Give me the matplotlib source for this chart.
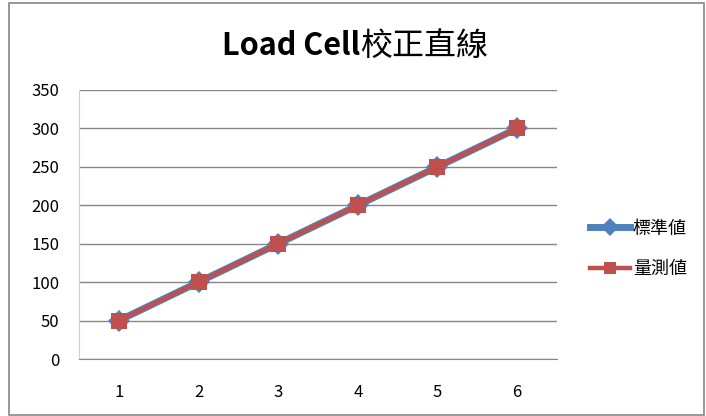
import matplotlib
matplotlib.use("Agg")
import matplotlib.pyplot as plt
from matplotlib.patches import Rectangle

plt.rcParams['font.family'] = ['Noto Sans CJK TC', 'DejaVu Sans']

categories = [1, 2, 3, 4, 5, 6]
standard = [50, 100, 150, 200, 250, 300]
measured = [50, 100, 150, 200, 250, 300]
y_ticks = [0, 50, 100, 150, 200, 250, 300, 350]

fig = plt.figure(figsize=(7.06, 4.16), dpi=100)
fig.patch.set_facecolor('white')
fig.add_artist(Rectangle((8.5 / 706, 1.5 / 416), 695 / 706, 412 / 416,
                         transform=fig.transFigure, fill=False,
                         edgecolor='#868686', linewidth=1.2))

ax = fig.add_axes([79 / 706, 1 - 359 / 416, 478 / 706, 269 / 416])
ax.set_xlim(0.5, 6.5)
ax.set_ylim(0, 350)
ax.set_yticks(y_ticks)
ax.set_xticks(categories)
ax.grid(axis='y', color='#868686', linewidth=1.0)
ax.set_axisbelow(True)
for side in ['top', 'right']:
    ax.spines[side].set_visible(False)
ax.spines['left'].set_color('#d0d0d0')
ax.spines['bottom'].set_color('#868686')
ax.tick_params(axis='both', length=0, labelsize=12, colors='black')
ax.tick_params(axis='y', pad=14)
ax.tick_params(axis='x', pad=18)

ax.plot(categories, standard, color='#4F81BD', linewidth=5.0,
        marker='D', markersize=11, markeredgewidth=0, label='標準値')
ax.plot(categories, measured, color='#C0504D', linewidth=3.2,
        marker='s', markersize=11, markeredgewidth=0, label='量測値')

fig.text(360 / 706, 1 - 46 / 416, 'Load Cell', fontsize=22, fontweight='bold',
         ha='right', va='center')
fig.text(360 / 706, 1 - 46 / 416, '校正直線', fontsize=23,
         ha='left', va='center', fontweight='light')

leg = ax.legend(loc='center left', bbox_to_anchor=(574 / 706, 1 - 249 / 416),
                bbox_transform=fig.transFigure, frameon=False, fontsize=13,
                handlelength=2.2, labelspacing=1.25, handletextpad=0.15,
                markerscale=0.8)

fig.savefig('out.png', dpi=100)
